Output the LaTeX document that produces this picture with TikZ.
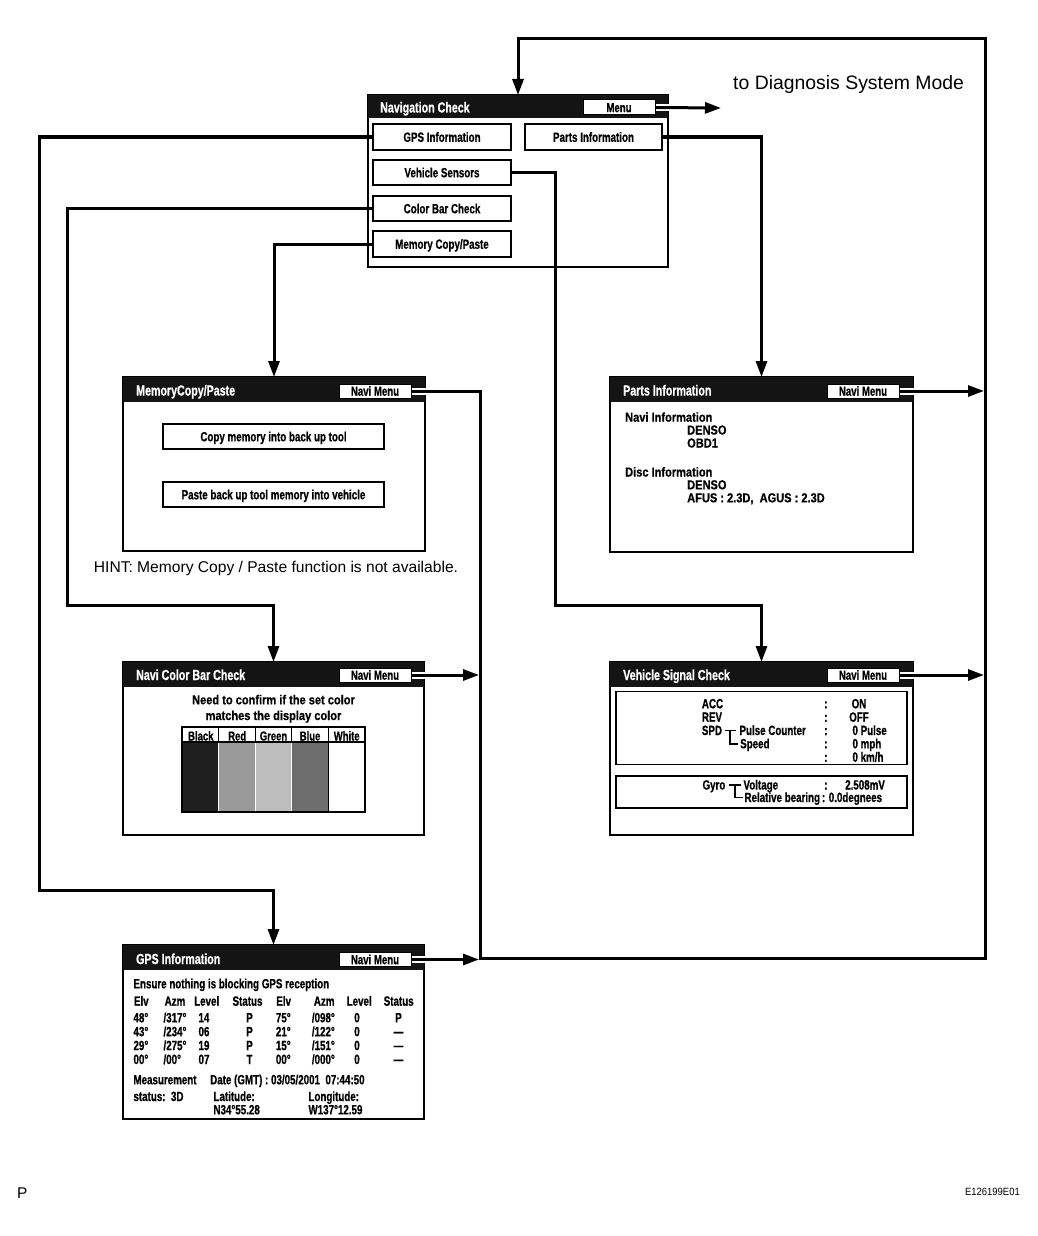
\documentclass[tikz,border=0pt]{standalone}
\usepackage{fontspec}
\setmainfont{Liberation Sans}
\newfontfamily\fA[FakeStretch=0.73, BoldFeatures={FakeBold=0.7}]{Liberation Sans}
\newfontfamily\fB[FakeStretch=0.85, BoldFeatures={FakeBold=0.7}]{Liberation Sans}
\newfontfamily\fC[FakeStretch=0.9]{Liberation Sans}
\usetikzlibrary{arrows.meta}
\begin{document}
\begin{tikzpicture}[x=1pt,y=-1pt,
  scr/.style={draw, line width=1.9pt, fill=white, inner sep=0pt, outer sep=0pt},
  hdr/.style={fill=black!92, inner sep=0pt, outer sep=0pt, anchor=north},
  ttl/.style={text=white, font=\fA\bfseries\fontsize{14.6}{16}\selectfont, inner sep=0pt, anchor=base west},
  mbtn/.style={draw, line width=1pt, fill=white, inner sep=0pt, outer sep=0pt, minimum width=72pt, minimum height=14pt, text height=9.4pt, text depth=0pt, font=\fA\bfseries\fontsize{13.2}{15}\selectfont},
  btn/.style={draw, line width=1.4pt, fill=white, inner sep=0pt, outer sep=0pt, text height=9.6pt, text depth=0pt, font=\fA\bfseries\fontsize{13.4}{15}\selectfont},
  tx/.style={inner sep=0pt, anchor=base west, font=\fA\bfseries\fontsize{13.4}{15}\selectfont},
  txb/.style={inner sep=0pt, anchor=base west, font=\fB\bfseries\fontsize{13}{15}\selectfont},
  txc/.style={tx, anchor=base},
  tbl/.style={inner sep=0pt, anchor=base, font=\fA\bfseries\fontsize{13}{15}\selectfont},
  inbox/.style={draw, line width=1.4pt, inner sep=0pt, outer sep=0pt, minimum width=291pt},
  conn/.style={line width=3pt},
  arr/.style={conn, -{Triangle[length=16pt,width=11pt]}},
  notch/.style={fill=white},
  thinl/.style={line width=1.1pt}
]
\useasboundingbox (0,0) rectangle (1038,1236);

% ---------------- Navigation Check ----------------
\node[scr, minimum width=300pt, minimum height=172pt] (nav) at (518,181) {};
\node[hdr, minimum width=300pt, minimum height=23pt] (navh) at (nav.north) {};
\node[ttl] (navt) at (380,112.5) {Navigation Check};
\node[mbtn, minimum height=15pt] (navm) at (619,107.5) {Menu};
\fill[notch] (655.5,104) rectangle (669.5,111);
\node[btn, minimum width=138pt, minimum height=26pt] (gpsb) at (442,137) {GPS Information};
\node[btn, minimum width=137pt, minimum height=26pt] (partb) at (593.5,137) {Parts Information};
\node[btn, minimum width=138pt, minimum height=25pt] (vehb) at (442,172.5) {Vehicle Sensors};
\node[btn, minimum width=138pt, minimum height=25pt] (colb) at (442,208.5) {Color Bar Check};
\node[btn, minimum width=138pt, minimum height=26pt] (memb) at (442,244) {Memory Copy/Paste};
\node[inner sep=0pt, anchor=base west, font=\fontsize{19.4}{22}\selectfont] (diagt) at (733,90) {to Diagnosis System Mode};
\coordinate (diag) at (721,108);

% ---------------- MemoryCopy/Paste ----------------
\node[scr, minimum width=302pt, minimum height=174pt] (mem) at (274,464) {};
\node[hdr, minimum width=302pt, minimum height=25pt] (memh) at (mem.north) {};
\node[ttl] (memt) at (136,395.5) {MemoryCopy/Paste};
\node[mbtn] (memm) at (375,391) {Navi Menu};
\fill[notch] (411.5,387.5) rectangle (426,394.5);
\node[btn, minimum width=221pt, minimum height=25pt] (copyb) at (273.5,436.5) {Copy memory into back up tool};
\node[btn, minimum width=221pt, minimum height=25pt] (pasteb) at (273.5,494.5) {Paste back up tool memory into vehicle};
\node[inner sep=0pt, anchor=base, font=\fontsize{15.6}{18}\selectfont] (hint) at (276,572) {HINT: Memory Copy / Paste function is not available.};

% ---------------- Parts Information ----------------
\node[scr, minimum width=303pt, minimum height=175pt] (parts) at (761.5,464.5) {};
\node[hdr, minimum width=303pt, minimum height=25pt] (partsh) at (parts.north) {};
\node[ttl] (partst) at (623,395.5) {Parts Information};
\node[mbtn] (partm) at (863,391) {Navi Menu};
\fill[notch] (899.5,387.5) rectangle (914,394.5);
\node[txb] (pn1) at (625,421.7) {Navi Information};
\node[txb] (pn2) at (687,434.5) {DENSO};
\node[txb] (pn3) at (687,447.5) {OBD1};
\node[txb] (pd1) at (625,476.5) {Disc Information};
\node[txb] (pd2) at (687,489.3) {DENSO};
\node[txb] (pd3) at (687,502.3) {AFUS : 2.3D,\ \ AGUS : 2.3D};

% ---------------- Navi Color Bar Check ----------------
\node[scr, minimum width=301pt, minimum height=173pt] (col) at (273.5,748.5) {};
\node[hdr, minimum width=301pt, minimum height=25pt] (colh) at (col.north) {};
\node[ttl] (colt) at (136,680) {Navi Color Bar Check};
\node[mbtn] (colm) at (375,675) {Navi Menu};
\fill[notch] (411.5,671.5) rectangle (425.5,678.5);
\node[txb, anchor=base] (need1) at (273.5,704.3) {Need to confirm if the set color};
\node[txb, anchor=base] (need2) at (273.5,720) {matches the display color};
\fill[black!88] (182,742) rectangle (218.6,812);
\fill[black!40] (218.6,742) rectangle (255.2,812);
\fill[black!26] (255.2,742) rectangle (291.8,812);
\fill[black!57] (291.8,742) rectangle (328.4,812);
\draw[white, line width=0.9pt] (218.6,743) -- (218.6,811) (255.2,743) -- (255.2,811) (291.8,743) -- (291.8,811);
\draw[thinl] (328.4,727) -- (328.4,812);
\draw[thinl] (182,742) -- (365,742);
\draw[thinl] (218.6,727) -- (218.6,742) (255.2,727) -- (255.2,742) (291.8,727) -- (291.8,742);
\draw[line width=1.3pt] (182,727) rectangle (365,812);
\node[tbl] (cb1) at (200.8,740.5) {Black};
\node[tbl] (cb2) at (237.2,740.5) {Red};
\node[tbl] (cb3) at (273.5,740.5) {Green};
\node[tbl] (cb4) at (310.1,740.5) {Blue};
\node[tbl] (cb5) at (346.7,740.5) {White};

% ---------------- Vehicle Signal Check ----------------
\node[scr, minimum width=303pt, minimum height=173pt] (vs) at (761.5,748.5) {};
\node[hdr, minimum width=303pt, minimum height=25pt] (vsh) at (vs.north) {};
\node[ttl] (vst) at (623,680) {Vehicle Signal Check};
\node[mbtn] (vsm) at (863,675) {Navi Menu};
\fill[notch] (899.5,671.5) rectangle (914,678.5);
\node[inbox, minimum height=73pt] (vs1) at (761.5,728) {};
\node[inbox, minimum height=32pt] (vs2) at (761.5,792) {};
\node[tx] (acc) at (701.7,708.3) {ACC};
\node[tx] (rev) at (701.7,721.7) {REV};
\node[tx] (spd) at (701.7,735) {SPD};
\node[tx] (pulse) at (739.3,735) {Pulse Counter};
\node[tx] (speed) at (740,748.3) {Speed};
\draw[thinl] (724.5,730.5) -- (735.5,730.5) (730,730.5) -- (730,744) -- (737.5,744);
\node[tx] (c1) at (824,708.3) {:};
\node[tx] (c2) at (824,721.7) {:};
\node[tx] (c3) at (824,735) {:};
\node[tx] (c4) at (824,748.3) {:};
\node[tx] (c5) at (824,761.7) {:};
\node[txc] (von) at (859,708.3) {ON};
\node[txc] (voff) at (859,721.7) {OFF};
\node[tx] (vpul) at (852.3,735) {0 Pulse};
\node[tx] (vmph) at (852.3,748.3) {0 mph};
\node[tx] (vkmh) at (852.3,761.7) {0 km/h};
\node[tx] (gyro) at (702.3,789.5) {Gyro};
\node[tx] (volt) at (743.3,789.5) {Voltage};
\node[tx] (relb) at (744.3,802) {Relative bearing};
\draw[thinl] (729,785) -- (741,785) (735,785) -- (735,797.5) -- (742.5,797.5);
\node[tx] (c6) at (824,789.5) {:};
\node[tx] (vvolt) at (845,789.5) {2.508mV};
\node[tx] (vrel) at (821.7,802) {: 0.0degnees};

% ---------------- GPS Information ----------------
\node[scr, minimum width=301pt, minimum height=174pt] (gps) at (273.5,1032) {};
\node[hdr, minimum width=301pt, minimum height=25pt] (gpsh) at (gps.north) {};
\node[ttl] (gpst) at (136,964) {GPS Information};
\node[mbtn] (gpsm) at (375,959.5) {Navi Menu};
\fill[notch] (411.5,956) rectangle (425.5,963);
\node[tx] (ens) at (133.3,988.3) {Ensure nothing is blocking GPS reception};
\node[txc] (h1) at (141.3,1005.7) {Elv};
\node[txc] (h2) at (175,1005.7) {Azm};
\node[txc] (h3) at (206.7,1005.7) {Level};
\node[txc] (h4) at (247.5,1005.7) {Status};
\node[txc] (h5) at (283.7,1005.7) {Elv};
\node[txc] (h6) at (324.2,1005.7) {Azm};
\node[txc] (h7) at (359.2,1005.7) {Level};
\node[txc] (h8) at (398.7,1005.7) {Status};
\foreach \t [count=\i] in {48°,43°,29°,00°}
  \node[tx] (ga\i) at (133.3,{1008.4+13.9*\i}) {\t};
\foreach \t [count=\i] in {/317°,/234°,/275°,/00°}
  \node[tx] (gb\i) at (163.3,{1008.4+13.9*\i}) {\t};
\foreach \t [count=\i] in {14,06,19,07}
  \node[txc] (gc\i) at (204,{1008.4+13.9*\i}) {\t};
\foreach \t [count=\i] in {P,P,P,T}
  \node[txc] (gd\i) at (249.5,{1008.4+13.9*\i}) {\t};
\foreach \t [count=\i] in {75°,21°,15°,00°}
  \node[tx] (ge\i) at (275.7,{1008.4+13.9*\i}) {\t};
\foreach \t [count=\i] in {/098°,/122°,/151°,/000°}
  \node[tx] (gf\i) at (311.7,{1008.4+13.9*\i}) {\t};
\foreach \t [count=\i] in {0,0,0,0}
  \node[txc] (gg\i) at (357,{1008.4+13.9*\i}) {\t};
\foreach \t [count=\i] in {P,—,—,—}
  \node[txc] (gh\i) at (398.5,{1008.4+13.9*\i}) {\t};
\node[tx] (meas) at (133.3,1084.3) {Measurement};
\node[tx] (date) at (210,1084.3) {Date (GMT) : 03/05/2001\ \ 07:44:50};
\node[tx] (stat) at (133.3,1101) {status:\ \ 3D};
\node[tx] (lat) at (213.3,1101) {Latitude:};
\node[tx] (latv) at (213.3,1114.3) {N34°55.28};
\node[tx] (lon) at (308.3,1101) {Longitude:};
\node[tx] (lonv) at (308.3,1114.3) {W137°12.59};

% ---------------- footer ----------------
\node[inner sep=0pt, anchor=base west, font=\fontsize{15.5}{18}\selectfont] (pmark) at (17,1198) {P};
\node[inner sep=0pt, anchor=base east, font=\fC\fontsize{10.5}{12}\selectfont] (code) at (1020,1195) {E126199E01};

% ---------------- connectors ----------------
\coordinate (jc) at (479,675);
\coordinate (jg) at (479,959.5);
\coordinate (jp) at (984,391);
\coordinate (jv) at (984,675);
\draw[arr] (navm.east) -- (diag);
\draw[arr] (gpsb.west) -| (39,890) -| (gps.north);
\draw[arr] (colb.west) -| (67,605) -| (col.north);
\draw[arr] (memb.west) -| (mem.north);
\draw[arr] (vehb.east) -| (555,605) -| (vs.north);
\draw[arr] (partb.east) -| (parts.north);
\draw[arr] (memm.east) -| (480,958.5) -| (985,39) -| (nav.north);
\draw[arr] (colm.east) -- (jc);
\draw[arr] (gpsm.east) -- (jg);
\draw[arr] (partm.east) -- (jp);
\draw[arr] (vsm.east) -- (jv);
\end{tikzpicture}
\end{document}
